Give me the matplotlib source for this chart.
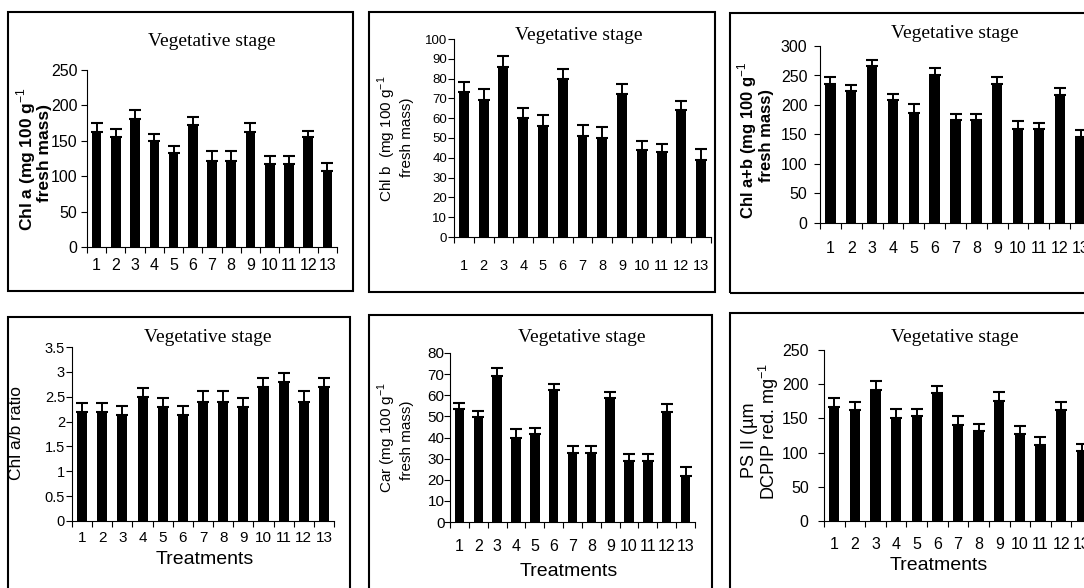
import matplotlib
matplotlib.use("Agg")
import matplotlib.pyplot as plt
from matplotlib.patches import Rectangle
import numpy as np

plt.rcParams['font.family'] = ['Liberation Sans', 'DejaVu Sans']
plt.rcParams['mathtext.fontset'] = 'custom'
plt.rcParams['mathtext.rm'] = 'Liberation Sans'
plt.rcParams['mathtext.bf'] = 'Liberation Sans:bold'

# data (13 treatments, vegetative stage)
treatments = [str(i) for i in range(1, 14)]
chl_a = [162, 155, 181, 150, 133, 173, 122, 122, 162, 117, 117, 155, 107]
chl_a_err = [13, 12, 13, 9, 10, 10, 13, 13, 13, 12, 12, 9, 12]
chl_b = [73, 69, 86, 60, 56, 80, 51, 50, 72, 44, 43, 64, 39]
chl_b_err = [5.5, 5.5, 5.5, 5, 5.5, 5, 5.5, 5.5, 5.5, 4.5, 4, 4.5, 5.5]
chl_ab = [235, 223, 266, 208, 186, 250, 174, 174, 235, 159, 159, 217, 146]
chl_ab_err = [12, 11, 11, 11, 15, 13, 11, 11, 12, 14, 11, 11, 11]
ratio = [2.2, 2.2, 2.13, 2.5, 2.3, 2.13, 2.4, 2.4, 2.3, 2.7, 2.8, 2.4, 2.7]
ratio_err = [0.18, 0.18, 0.18, 0.18, 0.18, 0.18, 0.22, 0.22, 0.18, 0.18, 0.18, 0.22, 0.18]
car = [53.5, 49.5, 69, 40, 41.5, 62.5, 32.5, 32.5, 58.5, 29, 29, 52, 22]
car_err = [3, 3, 4, 4, 3, 3, 3.5, 3.5, 3, 3, 3, 4, 4]
ps2 = [167, 162, 192, 151, 153, 187, 140, 132, 175, 127, 111, 162, 103]
ps2_err = [13, 12, 13, 13, 11, 10, 13, 10, 13, 12, 12, 12, 10]

W, H = 1084, 588
fig = plt.figure(figsize=(W / 100, H / 100), dpi=100)


def box(l, t, r, b):
    fig.patches.append(Rectangle((l / W, 1 - b / H), (r - l) / W, (b - t) / H,
                                 transform=fig.transFigure, fill=False,
                                 lw=1.5, ec='black'))


def ftext(x, y, s, **kw):
    fig.text(x / W, 1 - y / H, s, ha='center', va='center', **kw)


def panel(rect, vals, errs, ymax, ystep, xfs, yfs, xpad, ypad, title_xy):
    l, t, r, b = rect
    ax = fig.add_axes([l / W, 1 - b / H, (r - l) / W, (b - t) / H])
    x = np.arange(1, 14)
    ax.bar(x, vals, width=0.5, color='black')
    ax.errorbar(x, vals, yerr=[np.zeros(13), errs], fmt='none', ecolor='black',
                elinewidth=1.4, capsize=4.5, capthick=1.5)
    ax.set_xlim(0.5, 13.5)
    ax.set_ylim(0, ymax)
    yt = np.arange(0, ymax + ystep / 2, ystep)
    ax.set_yticks(yt)
    ax.set_yticklabels(['%g' % v for v in yt])
    ax.set_xticks(x)
    ax.set_xticklabels(treatments)
    ax.set_xticks(np.arange(0.5, 14, 1), minor=True)
    ax.tick_params(axis='x', which='major', length=0, pad=xpad, labelsize=xfs)
    ax.tick_params(axis='x', which='minor', length=4, width=0.8)
    ax.tick_params(axis='y', length=4, width=0.8, pad=ypad, labelsize=yfs)
    for s in ['top', 'right']:
        ax.spines[s].set_visible(False)
    for s in ['left', 'bottom']:
        ax.spines[s].set_linewidth(0.8)
    ftext(title_xy[0], title_xy[1], 'Vegetative stage', fontsize=14,
          family='Liberation Serif')
    return ax


# frames around each chart
box(8, 12, 353, 291)
box(369, 12, 715, 292)
box(730, 13, 1110, 293)
box(8, 317, 350, 610)
box(369, 315, 712, 610)
box(730, 313, 1110, 610)

panel((87, 70, 337, 247), chl_a, chl_a_err, 250, 50, 11.5, 11.5, 8, 3, (212, 42))
panel((454, 39, 711, 237), chl_b, chl_b_err, 100, 10, 10.5, 9.5, 16, 1, (579, 35))
panel((820, 46, 1091, 223), chl_ab, chl_ab_err, 300, 50, 11.5, 11.5, 13, 5, (955, 33))
panel((72, 347, 334, 521), ratio, ratio_err, 3.5, 0.5, 11, 10.5, 7.5, 1, (208, 337))
panel((450, 353, 695, 522), car, car_err, 80, 10, 11.5, 11, 12, 0, (582, 338))
panel((824, 350, 1092, 521), ps2, ps2_err, 250, 50, 11.5, 11.5, 11.5, 7, (955, 337))

# y axis labels
ftext(26, 159, 'Chl a (mg 100 g$^{-1}$', rotation=90, fontsize=12.5, fontweight='bold')
ftext(45, 153, 'fresh mass)', rotation=90, fontsize=12.5, fontweight='bold')
ftext(387, 139, 'Chl b  (mg 100 g$^{-1}$', rotation=90, fontsize=11)
ftext(407, 137, 'fresh mass)', rotation=90, fontsize=11)
ftext(747, 140, 'Chl a+b (mg 100 g$^{-1}$', rotation=90, fontsize=12, fontweight='bold')
ftext(767, 135, 'fresh mass)', rotation=90, fontsize=12, fontweight='bold')
ftext(17, 433, 'Chl a/b ratio', rotation=90, fontsize=12.5)
ftext(387, 437, 'Car (mg 100 g$^{-1}$', rotation=90, fontsize=11)
ftext(407, 440, 'fresh mass)', rotation=90, fontsize=11)
ftext(749, 440, 'PS II (µm', rotation=90, fontsize=13)
ftext(769, 432, 'DCPIP red. mg$^{-1}$', rotation=90, fontsize=13)

# x axis titles (bottom row only)
ftext(205, 560, 'Treatments', fontsize=14)
ftext(569, 572, 'Treatments', fontsize=14)
ftext(939, 565, 'Treatments', fontsize=14)

fig.savefig('out.png', dpi=100)
